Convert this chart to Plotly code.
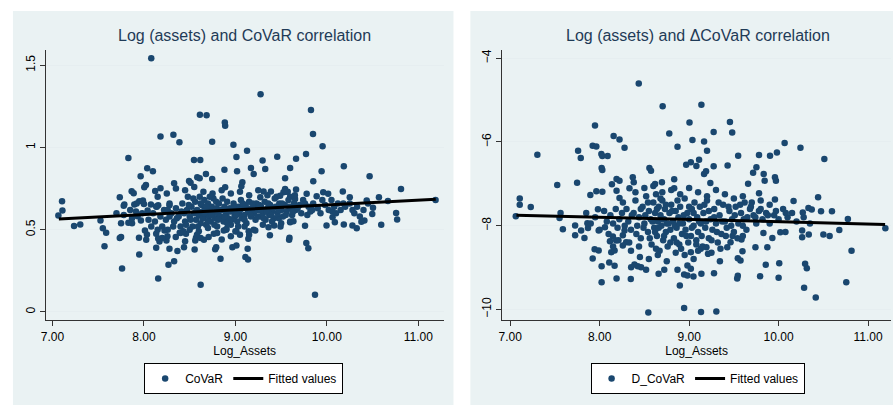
import plotly.graph_objects as go

# ---------------- Data ----------------
# Left panel: Log_Assets vs CoVaR
covar_x = [
    8.08, 9.275, 8.612, 8.685, 8.884, 8.888, 9.826, 9.848, 8.181, 8.322, 8.388, 8.746, 8.978, 9.953,
    7.83, 8.547, 8.616, 9.011, 9.127, 9.297, 9.457, 9.663, 9.772, 9.598, 9.326, 9.17, 9.2, 8.88,
    9.018, 10.185, 10.467, 10.81, 11.188, 9.942, 9.851, 9.543, 8.036, 8.098, 7.964, 8.678, 8.609,
    8.583, 8.746, 8.33, 8.493, 8.51, 9.076, 9.065, 8.888, 8.181, 8.022, 8.004, 7.866, 7.888, 7.736,
    7.786, 7.779, 7.105, 7.109, 7.065, 7.236, 7.304, 7.525, 7.551, 7.587, 7.569, 7.736, 7.75, 7.761,
    7.946, 7.949, 8.025, 8.134, 8.156, 8.268, 8.33, 8.279, 8.366, 8.438, 8.554, 8.62, 8.779, 8.79,
    8.837, 8.967, 9.011, 9.109, 9.138, 9.134, 9.141, 9.377, 9.587, 9.591, 9.775, 9.797, 9.87, 10.594,
    10.757, 10.768, 10.569, 10.504, 10.496, 10.435, 10.41, 10.377, 10.326, 10.25, 10.174, 10.667,
    10.279, 10.185, 10.087, 10.062, 9.996, 10.014, 9.96, 9.888, 9.761, 9.786, 9.779, 9.663, 9.652,
    9.572, 9.598, 9.543, 9.525, 9.489, 9.634, 9.598, 9.493, 9.475, 9.424, 9.362, 9.388, 9.308, 9.272,
    9.225, 9.145, 9.217, 9.011, 8.902, 8.873, 8.764, 8.707, 8.656, 8.561, 8.569, 8.46, 8.391, 8.348,
    8.246, 8.257, 8.17, 8.156, 8.225, 8.134, 8.033, 8.011, 7.967, 7.931, 7.87, 7.83, 7.913, 8.0,
    7.989, 7.949, 8.076, 8.04, 8.134, 8.156, 8.123, 8.279, 7.895,
    8.30, 8.33, 8.35, 8.38, 8.40, 8.42, 8.44, 8.45, 8.47, 8.48, 8.50, 8.52, 8.53, 8.55, 8.56, 8.57,
    8.58, 8.60, 8.61, 8.62, 8.63, 8.64, 8.65, 8.66, 8.67, 8.68, 8.69, 8.70, 8.71, 8.72, 8.73, 8.74,
    8.75, 8.76, 8.78, 8.79, 8.80, 8.81, 8.82, 8.84, 8.85, 8.87, 8.88, 8.90, 8.91, 8.92, 8.94, 8.95,
    8.96, 8.98, 8.99, 9.00, 9.02, 9.03, 9.04, 9.06, 9.07, 9.08, 9.10, 9.11, 9.12, 9.14, 9.15, 9.17,
    9.18, 9.20, 9.22, 9.23, 9.25, 9.27, 9.28, 9.30, 9.32, 9.33, 9.35, 9.37, 9.38, 9.40, 9.42, 9.44,
    9.46, 9.48, 9.50, 9.52, 9.54, 9.56, 9.58, 9.60, 9.62, 9.64, 9.66, 9.70, 9.72, 9.74, 9.80, 9.82,
    9.85, 9.90, 9.93, 9.98, 10.02, 10.05, 10.08, 10.10, 10.12, 10.15, 10.20, 10.25, 10.28, 10.30,
    10.33, 10.36, 10.40, 10.45,
    8.10, 8.12, 8.15, 8.18, 8.20, 8.22, 8.24, 8.26, 8.28, 8.20, 8.05, 8.08, 7.98, 7.92, 7.87, 7.78,
    7.75, 7.70, 7.85, 8.15, 8.25, 8.35, 8.45, 8.55, 8.65, 8.75, 8.85, 8.95, 9.05, 9.15, 9.25, 9.35,
    9.45, 9.55, 9.65, 8.40, 8.50, 8.60, 8.70, 8.80, 8.90, 9.00, 9.10, 9.20, 9.30, 9.40, 9.50, 9.60,
    8.45, 8.62, 8.85, 8.95, 9.05, 9.15,
    8.36, 8.41, 8.46, 8.49, 8.51, 8.54, 8.57, 8.59, 8.62, 8.64, 8.66, 8.68, 8.70, 8.72, 8.74, 8.77,
    8.79, 8.81, 8.83, 8.86, 8.88, 8.91, 8.93, 8.96, 8.98, 9.01, 9.03, 9.05, 9.08, 9.10, 9.13, 9.16,
    9.19, 9.21, 9.24, 9.26, 9.29, 9.31, 9.34, 9.36, 9.39, 9.41, 9.43, 9.47, 9.51, 9.55, 9.59, 9.63,
    9.68, 9.76, 9.84, 9.95, 10.06, 10.18, 8.28, 8.32, 8.26, 8.14, 8.43, 8.58,
]
covar_y = [
    1.542, 1.324, 1.199, 1.195, 1.152, 1.132, 1.227, 1.081, 1.067, 1.077, 1.031, 1.035, 1.017, 1.007,
    0.936, 0.924, 0.924, 0.942, 0.98, 0.92, 0.944, 0.932, 0.96, 0.875, 0.869, 0.875, 0.839, 0.865,
    0.855, 0.885, 0.825, 0.748, 0.681, 0.855, 0.794, 0.813, 0.873, 0.855, 0.825, 0.839, 0.813,
    0.819, 0.809, 0.782, 0.796, 0.786, 0.788, 0.764, 0.758, 0.752, 0.772, 0.758, 0.734, 0.722, 0.697,
    0.653, 0.645, 0.673, 0.617, 0.586, 0.522, 0.532, 0.556, 0.509, 0.481, 0.40, 0.449, 0.455, 0.265,
    0.451, 0.35, 0.439, 0.39, 0.204, 0.287, 0.309, 0.384, 0.37, 0.394, 0.38, 0.166, 0.382, 0.394,
    0.323, 0.394, 0.404, 0.334, 0.319, 0.384, 0.445, 0.467, 0.439, 0.451, 0.42, 0.388, 0.105, 0.53,
    0.602, 0.562, 0.697, 0.633, 0.596, 0.677, 0.556, 0.548, 0.509, 0.697, 0.732, 0.675,
    0.526, 0.532, 0.546, 0.576, 0.526, 0.718, 0.728, 0.703, 0.524, 0.59, 0.718, 0.744, 0.687,
    0.73, 0.70, 0.748, 0.728, 0.707, 0.552, 0.546, 0.52, 0.57, 0.526, 0.515, 0.732, 0.732, 0.697,
    0.657, 0.491, 0.495, 0.489, 0.505, 0.495, 0.475, 0.455, 0.439, 0.435, 0.451, 0.475, 0.481, 0.455,
    0.435, 0.461, 0.429, 0.447, 0.495, 0.475, 0.471, 0.495, 0.556, 0.582, 0.54, 0.542, 0.61, 0.657,
    0.677, 0.673, 0.653, 0.617, 0.641, 0.649, 0.736, 0.649, 0.653,
    0.60, 0.55, 0.63, 0.58, 0.52, 0.66, 0.60, 0.55, 0.62, 0.70, 0.58, 0.64, 0.52, 0.60, 0.67, 0.56,
    0.62, 0.59, 0.70, 0.54, 0.65, 0.61, 0.57, 0.68, 0.63, 0.53, 0.60, 0.66, 0.58, 0.62, 0.55, 0.64,
    0.60, 0.69, 0.57, 0.63, 0.52, 0.60, 0.66, 0.58, 0.62, 0.55, 0.64, 0.60, 0.67, 0.57, 0.63, 0.53,
    0.61, 0.66, 0.58, 0.62, 0.55, 0.64, 0.60, 0.68, 0.57, 0.63, 0.59, 0.65, 0.54, 0.61, 0.67, 0.58,
    0.63, 0.60, 0.56, 0.66, 0.62, 0.58, 0.64, 0.60, 0.67, 0.56, 0.63, 0.59, 0.65, 0.61, 0.57, 0.64,
    0.60, 0.66, 0.62, 0.58, 0.65, 0.61, 0.68, 0.63, 0.59, 0.66, 0.62, 0.65, 0.60, 0.68, 0.64, 0.61,
    0.66, 0.63, 0.60, 0.65, 0.62, 0.68, 0.64, 0.60, 0.66, 0.62, 0.64, 0.66, 0.62, 0.60,
    0.64, 0.58, 0.62, 0.66,
    0.60, 0.55, 0.50, 0.58, 0.52, 0.62, 0.56, 0.50, 0.66, 0.45, 0.56, 0.52, 0.60, 0.66, 0.57, 0.59,
    0.54, 0.60, 0.62, 0.70, 0.72, 0.75, 0.74, 0.76, 0.73, 0.72, 0.74, 0.72, 0.73, 0.71, 0.74, 0.71,
    0.70, 0.73, 0.71, 0.48, 0.50, 0.49, 0.51, 0.48, 0.50, 0.49, 0.52, 0.50, 0.53, 0.55, 0.54, 0.55,
    0.43, 0.45, 0.44, 0.46, 0.47, 0.47,
    0.57, 0.61, 0.53, 0.65, 0.56, 0.69, 0.61, 0.52, 0.66, 0.57, 0.60, 0.64, 0.55, 0.70, 0.59, 0.53,
    0.67, 0.56, 0.62, 0.69, 0.58, 0.54, 0.61, 0.56, 0.63, 0.59, 0.52, 0.62, 0.66, 0.56, 0.63, 0.60,
    0.66, 0.62, 0.58, 0.65, 0.62, 0.57, 0.61, 0.66, 0.59, 0.63, 0.69, 0.62, 0.66, 0.59, 0.64, 0.61,
    0.63, 0.66, 0.62, 0.68, 0.61, 0.66, 0.58, 0.52, 0.62, 0.64, 0.49, 0.47,
]
covar_fit_x = [7.07, 11.19]
covar_fit_y = [0.565, 0.685]

# Right panel: Log_Assets vs D_CoVaR
dcovar_x = [
    8.437, 8.704, 9.137, 9.456, 9.481, 9.004, 8.778, 9.037, 9.167, 9.274, 8.87, 9.2, 10.067, 10.244,
    10.511, 8.156, 8.222, 8.278, 7.948, 7.922, 7.963, 8.019, 8.03, 8.089, 8.022, 8.03, 7.759, 7.789,
    7.304, 7.526, 7.748, 7.107, 7.107, 7.23, 7.063, 7.563, 7.552, 7.589, 7.726, 7.726, 7.793, 7.83,
    7.922, 7.944, 7.989, 8.022, 8.022, 8.107, 8.167, 8.189, 8.13, 8.167, 8.348, 8.352, 8.389, 8.426,
    8.544, 8.944, 9.133, 9.304, 8.896, 8.944, 8.981, 9.048, 9.137, 9.278, 8.87, 8.981, 9.019, 8.659,
    8.722, 8.519, 8.463, 9.544, 9.537, 9.793, 10.0, 9.856, 10.007, 10.285, 10.315, 10.296, 10.415,
    10.756, 10.815, 10.774, 10.678, 11.193, 10.57, 10.5, 10.596, 10.474, 10.441, 10.337, 10.263,
    10.263, 10.167, 10.37, 10.333, 10.27, 10.076, 10.019, 9.93, 9.874, 9.83, 9.741, 9.959, 9.981,
    9.904, 9.781, 9.752, 9.715, 9.833, 9.844, 9.959, 9.97, 9.781, 9.659, 9.548, 9.43, 9.274, 9.237,
    9.167, 9.189, 9.111, 9.019, 8.967, 9.081, 8.833, 8.833, 8.556, 8.574, 8.619, 8.696, 8.37, 8.381,
    8.189, 8.222, 8.137, 8.189, 8.222, 8.333, 7.896, 7.963, 8.03, 7.87, 7.863, 7.981, 7.989, 8.059,
    8.115, 8.148, 8.185, 8.259, 8.278, 8.296, 8.259, 9.344, 9.426, 9.463, 9.485, 9.6, 9.585, 9.544,
    9.574, 9.596, 9.193, 9.211, 9.13, 9.019,
    8.30, 8.32, 8.35, 8.38, 8.40, 8.42, 8.44, 8.46, 8.48, 8.50, 8.52, 8.54, 8.55, 8.57, 8.58, 8.60,
    8.61, 8.62, 8.63, 8.64, 8.65, 8.66, 8.67, 8.68, 8.69, 8.70, 8.71, 8.72, 8.73, 8.74, 8.75, 8.76,
    8.78, 8.79, 8.80, 8.82, 8.83, 8.85, 8.86, 8.88, 8.89, 8.90, 8.92, 8.93, 8.95, 8.96, 8.98, 8.99,
    9.00, 9.02, 9.03, 9.05, 9.06, 9.08, 9.09, 9.10, 9.12, 9.13, 9.15, 9.16, 9.18, 9.20, 9.22, 9.24,
    9.26, 9.28, 9.30, 9.32, 9.34, 9.36, 9.38, 9.40, 9.42, 9.45, 9.48, 9.50, 9.52, 9.55, 9.58, 9.60,
    9.62, 9.65, 9.68, 9.72, 9.75, 9.78, 9.82, 9.86, 9.90, 9.95, 10.00, 10.05, 10.10, 10.15, 10.20,
    10.28, 10.35,
    7.85, 7.90, 7.95, 8.00, 8.05, 8.08, 8.10, 8.12, 8.15, 8.18, 8.20, 8.22, 8.25, 8.28, 8.15, 8.35,
    8.45, 8.55, 8.65, 8.75, 8.85, 8.95, 9.05, 9.25, 9.35, 8.40, 8.50, 8.60, 8.70, 8.80, 8.90, 9.00,
    9.10, 9.20, 9.30, 9.40, 9.50, 9.60, 9.70, 9.80, 9.90,
    8.36, 8.41, 8.46, 8.49, 8.51, 8.54, 8.56, 8.59, 8.62, 8.64, 8.66, 8.68, 8.70, 8.72, 8.74, 8.77,
    8.79, 8.81, 8.84, 8.87, 8.89, 8.91, 8.94, 8.97, 9.00, 9.03, 9.05, 9.08, 9.11, 9.14, 9.17, 9.19,
    9.22, 9.25, 9.28, 9.31, 9.33, 9.37, 9.41, 9.44, 9.47, 9.51, 9.54, 9.57, 9.61, 9.64, 9.69, 9.74,
    9.80, 9.88, 9.97, 10.08, 8.26, 8.21, 8.33, 8.44, 8.63, 8.86, 9.10,
]
dcovar_y = [
    -4.604, -5.145, -5.113, -5.526, -5.773, -5.534, -5.796, -5.955, -5.987, -5.765, -6.114, -6.21, -6.027,
    -6.138, -6.409, -5.86, -5.94, -6.138, -5.606, -6.09, -6.107, -6.289, -6.337, -6.337, -6.623, -6.671,
    -6.21, -6.385, -6.305, -7.029, -6.973, -7.354, -7.498, -7.553, -7.776, -7.696, -7.816, -8.086, -7.998,
    -8.229, -8.118, -8.293, -8.785, -8.563, -8.595, -8.968, -9.35, -8.881, -8.96, -9.262, -8.634, -8.595,
    -9.278, -8.992, -8.928, -8.968, -10.073, -9.97, -10.065, -10.049, -9.429, -9.167, -9.191, -9.215,
    -9.151, -9.135, -9.056, -8.952, -9.032, -9.151, -9.056, -9.056, -8.992, -9.199, -9.262, -9.207,
    -9.246, -8.936, -8.897, -9.485, -9.016, -8.913, -9.716, -9.35, -8.603, -7.84, -8.102, -8.062,
    -8.245, -8.213, -7.657, -7.657, -7.323, -8.213, -8.118, -8.277, -7.41, -7.617, -7.577, -7.688,
    -8.15, -8.157, -8.293, -8.515, -8.173, -8.515, -7.378, -6.25, -6.329, -6.313, -6.607, -6.734,
    -6.766, -6.925, -6.846, -6.925, -7.227, -6.997, -6.329, -6.56, -6.583, -6.981, -6.766, -6.703,
    -6.425, -6.488, -6.544, -6.576, -6.893, -7.108, -6.623, -6.687, -7.005, -6.965, -6.846, -6.965,
    -6.886, -6.925, -7.013, -7.164, -7.339, -7.108, -7.267, -7.18, -7.188, -8.054, -7.943, -7.609,
    -8.118, -8.038, -8.372, -8.261, -8.356, -8.229, -8.118, -8.396, -8.475, -8.849, -8.515, -8.396,
    -8.245, -8.245, -8.332, -8.777, -8.833, -8.611, -8.515, -8.674, -8.555, -8.634,
    -7.60, -7.90, -8.10, -7.70, -7.40, -8.00, -7.80, -8.30, -7.55, -7.95, -7.30, -8.15, -7.65, -7.85,
    -8.45, -7.45, -8.05, -7.70, -7.25, -8.25, -7.90, -7.55, -8.60, -7.75, -8.00, -7.40, -8.35, -7.85,
    -7.60, -8.15, -7.95, -8.50, -7.70, -8.10, -7.50, -7.90, -8.30, -7.65, -8.05, -7.80, -8.45, -7.55,
    -8.20, -7.95, -7.35, -8.10, -7.70, -8.40, -7.85, -8.25, -7.60, -8.00, -7.45, -8.35, -7.80, -8.15,
    -7.55, -7.95, -8.50, -7.70, -8.05, -7.40, -8.30, -7.85, -8.10, -7.60, -7.95, -8.40, -7.75, -8.20,
    -7.50, -7.90, -8.05, -7.65, -7.85, -8.15, -7.55, -7.95, -7.70, -8.00, -7.45, -7.80, -7.60, -7.75,
    -7.95, -7.65, -7.85, -7.70, -7.95, -7.75, -7.85, -7.60, -7.80, -7.70, -7.90, -7.80, -7.95,
    -7.70, -7.95, -7.80, -8.10, -7.65, -7.90, -8.20, -7.75, -7.95, -7.60, -8.05, -7.85, -7.70, -8.00,
    -8.50, -8.60, -8.75, -8.80, -8.70, -8.85, -8.65, -8.70, -8.80, -8.65, -8.55, -7.20, -7.10, -7.05,
    -7.20, -7.15, -7.25, -7.10, -7.20, -7.30, -7.15, -7.25, -7.35, -7.30, -7.45, -7.40, -7.50,
    -7.75, -8.20, -7.60, -8.05, -7.75, -7.45, -8.30, -7.90, -8.15, -7.60, -8.05, -7.35, -7.85, -8.25,
    -7.50, -7.95, -8.40, -7.65, -8.00, -7.40, -7.95, -8.55, -7.75, -8.25, -7.55, -8.05, -7.70, -8.45,
    -7.90, -8.25, -7.50, -7.90, -7.65, -8.35, -7.80, -8.15, -7.45, -7.90, -8.25, -7.55, -8.00, -7.75,
    -8.30, -7.50, -7.85, -8.10, -7.55, -7.80, -7.60, -7.75, -7.65, -7.70, -7.45, -8.35, -8.40, -8.50,
    -8.55, -8.40, -8.60,
]
dcovar_fit_x = [7.07, 11.19]
dcovar_fit_y = [-7.75, -7.97]

# Axis ticks
x_ticks = [7, 8, 9, 10, 11]
covar_y_ticks = [0, 0.5, 1, 1.5]
dcovar_y_ticks = [-10, -8, -6, -4]

# ---------------- Styling ----------------
W, H = 893, 405
NAVY = "#1a476f"
BG = "#eaf2f3"
GRID = "#e6eef0"
FONT = "Liberation Sans, Arial, sans-serif"


def px(x):
    return x / W


def py(y):
    return 1 - y / H


fig = go.Figure()

fig.add_trace(go.Scatter(x=covar_x, y=covar_y, mode="markers", name="CoVaR",
                         marker=dict(color=NAVY, size=6.5, line=dict(width=0)),
                         xaxis="x", yaxis="y", legend="legend"))
fig.add_trace(go.Scatter(x=covar_fit_x, y=covar_fit_y, mode="lines", name="Fitted values",
                         line=dict(color="black", width=3),
                         xaxis="x", yaxis="y", legend="legend"))
fig.add_trace(go.Scatter(x=dcovar_x, y=dcovar_y, mode="markers", name="D_CoVaR",
                         marker=dict(color=NAVY, size=6.5, line=dict(width=0)),
                         xaxis="x2", yaxis="y2", legend="legend2"))
fig.add_trace(go.Scatter(x=dcovar_fit_x, y=dcovar_fit_y, mode="lines", name="Fitted values",
                         line=dict(color="black", width=3),
                         xaxis="x2", yaxis="y2", legend="legend2"))

axis_common = dict(showline=True, linecolor="#333333", linewidth=1, ticks="outside",
                   ticklen=5, tickcolor="#333333", zeroline=False,
                   tickfont=dict(family=FONT, size=12, color="black"))

fig.update_layout(
    width=W, height=H,
    margin=dict(l=0, r=0, t=0, b=0),
    paper_bgcolor="white",
    plot_bgcolor="white",
    font=dict(family=FONT, size=12, color="black"),
    xaxis=dict(domain=[px(41), px(441)], range=[6.927, 11.275], anchor="y",
               tickvals=x_ticks, tickformat=".2f", showgrid=False,
               title=dict(text="Log_Assets", standoff=0, font=dict(size=12)),
               **axis_common),
    yaxis=dict(domain=[py(320), py(49)], range=[-0.05, 1.593], anchor="x",
               tickvals=covar_y_ticks, tickangle=-90, showgrid=True,
               gridcolor=GRID, gridwidth=1, **axis_common),
    xaxis2=dict(domain=[px(500), px(891)], range=[6.911, 11.256], anchor="y2",
                tickvals=x_ticks, tickformat=".2f", showgrid=False,
                title=dict(text="Log_Assets", standoff=0, font=dict(size=12)),
                **axis_common),
    yaxis2=dict(domain=[py(320), py(49)], range=[-10.26, -3.8], anchor="x2",
                tickvals=dcovar_y_ticks, tickangle=-90, showgrid=True,
                gridcolor=GRID, gridwidth=1, **axis_common),
    legend=dict(orientation="h", x=px(240), y=py(378.5), xanchor="center", yanchor="middle",
                bgcolor="white", bordercolor="black", borderwidth=1,
                font=dict(family=FONT, size=12, color="black"), itemsizing="trace"),
    legend2=dict(orientation="h", x=px(696.5), y=py(378.5), xanchor="center", yanchor="middle",
                 bgcolor="white", bordercolor="black", borderwidth=1,
                 font=dict(family=FONT, size=12, color="black"), itemsizing="trace"),
    showlegend=True,
    shapes=[
        dict(type="rect", xref="paper", yref="paper", x0=px(8), x1=px(451), y0=0, y1=py(10),
             fillcolor=BG, line=dict(width=0), layer="below"),
        dict(type="rect", xref="paper", yref="paper", x0=px(468), x1=1, y0=0, y1=py(10),
             fillcolor=BG, line=dict(width=0), layer="below"),
    ],
    annotations=[
        dict(text="Log (assets) and CoVaR correlation", xref="paper", yref="paper",
             x=px(241), y=py(35), xanchor="center", yanchor="middle", showarrow=False,
             font=dict(family=FONT, size=16, color="#1f3b57")),
        dict(text="Log (assets) and \u0394CoVaR correlation", xref="paper", yref="paper",
             x=px(697), y=py(35), xanchor="center", yanchor="middle", showarrow=False,
             font=dict(family=FONT, size=16, color="#1f3b57")),
    ],
)

fig.write_html("out.html",
               config={"displayModeBar": False},
               post_script="document.body.style.margin='0';document.body.style.padding='0';"
                           "document.body.style.overflow='hidden';")
